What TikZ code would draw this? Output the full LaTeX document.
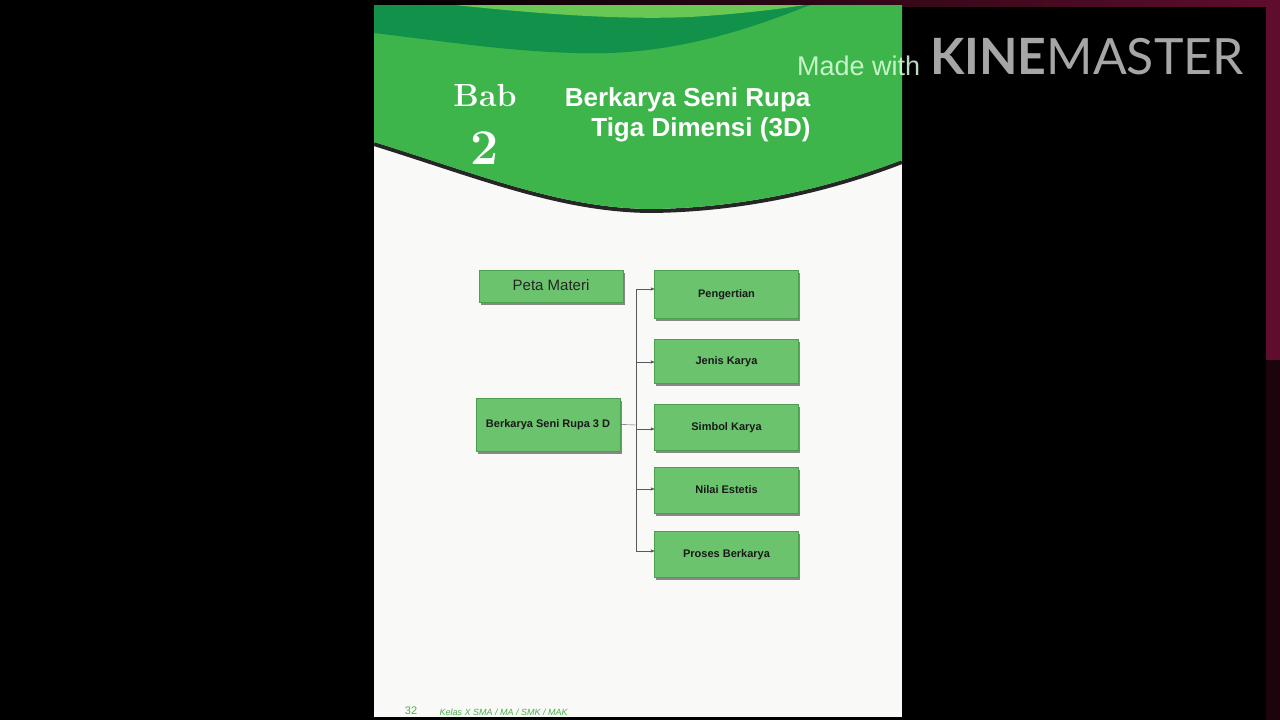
\documentclass[tikz,border=0pt]{standalone}
\usepackage{fontspec}
\newfontfamily\arial{Liberation Sans}
\newfontfamily\lato{Lato}
\usepackage{xcolor}
\usepackage{tikz}
\usetikzlibrary{arrows,shadows}
\definecolor{hdrgreen}{HTML}{3DB54A}
\definecolor{hdrdark}{HTML}{11914A}
\definecolor{hdrlight}{HTML}{68C853}
\definecolor{boxgreen}{HTML}{6CC36E}
\definecolor{boxedge}{HTML}{4E9E52}
\definecolor{pagewhite}{HTML}{F9F9F7}
\definecolor{kmred}{HTML}{5E0D2C}
\definecolor{kmgrey}{HTML}{A6A6A6}
\definecolor{footgreen}{HTML}{4CAF50}
\tikzstyle{mapbox}=[rectangle, draw=boxedge, fill=boxgreen, minimum width=144pt, text depth=1pt, drop shadow={shadow xshift=1.5pt, shadow yshift=-2.5pt, fill=black, opacity=.45}, font=\arial\fontsize{11}{13}\selectfont\bfseries, text=black!90]
\tikzstyle{titlebox}=[mapbox, font=\arial\fontsize{15}{17}\selectfont, text=black!85]
\tikzstyle{linkedge}=[->, >=stealth', thin, draw=black!65]

\begin{document}
\begin{tikzpicture}[x=1pt,y=-1pt]
        \useasboundingbox (0,0) rectangle (1280,720);
        % backdrop and page
        \fill[black] (0,0) rectangle (1280,720);
        \shade[left color=black, right color=kmred] (374,0) rectangle (1280,6);
        \fill[kmred] (1266,0) rectangle (1280,360);
        \fill[kmred!30!black] (1266,360) rectangle (1280,720);
        \fill[pagewhite] (374,5) rectangle (902,717);
        % header waves
        \draw[black!85, line width=4pt] (374,144) .. controls (480,177) and (560,210) .. (650,211) .. controls (760,210) and (850,182) .. (902,162);
        \fill[hdrgreen] (374,5) -- (902,5) -- (902,160) .. controls (850,180) and (760,208) .. (650,209) .. controls (560,208) and (480,175) .. (374,142) -- cycle;
        \fill[hdrdark] (374,5) -- (374,33) .. controls (450,42) and (530,55) .. (610,53) .. controls (690,50) and (760,25) .. (810,5) -- cycle;
        \fill[hdrlight] (455,5) .. controls (540,14) and (620,20) .. (690,17) .. controls (740,14) and (780,9) .. (805,5) -- cycle;
        \node[text=white, font=\fontsize{32}{32}\selectfont\bfseries] (bab) at (485,95) {Bab};
        \node[text=white, font=\fontsize{50}{50}\selectfont\bfseries] (num) at (485,148) {2};
        \node[text=white, font=\arial\bfseries\fontsize{26}{30}\selectfont, align=right, anchor=east] (title) at (814,115) {Berkarya Seni Rupa\\Tiga Dimensi (3D)};
        % map
        \node[titlebox, minimum height=32pt] (peta) at (551,286) {Peta Materi};
        \node[mapbox, minimum height=53pt] (berk) at (548,424.5) {Berkarya Seni Rupa 3 D};
        \node[mapbox, minimum height=48pt] (peng) at (726.5,294) {Pengertian};
        \node[mapbox, minimum height=44pt] (jenis) at (726.5,361) {Jenis Karya};
        \node[mapbox, minimum height=46pt] (simbol) at (726.5,427) {Simbol Karya};
        \node[mapbox, minimum height=46pt] (nilai) at (726.5,490) {Nilai Estetis};
        \node[mapbox, minimum height=46pt] (proses) at (726.5,554) {Proses Berkarya};
        \coordinate (jn) at (636,425);
        \draw[linkedge, -] (berk.east) -- (jn);
        \foreach \b/\s in {peng/5pt, jenis/-1pt, simbol/-2pt, nilai/1pt, proses/3pt}
          \draw[linkedge] (jn) |- ([yshift=\s]\b.west);
        % footer
        \node[text=footgreen, font=\arial\fontsize{11}{11}\selectfont] (pg) at (411,711) {32};
        \node[text=footgreen, font=\arial\itshape\fontsize{9}{9}\selectfont, anchor=west] (kelas) at (436,712) {Kelas X SMA / MA / SMK / MAK};
        % watermark
        \node[text=white!88!green, opacity=.85, font=\arial\fontsize{27}{27}\selectfont, anchor=west, inner sep=0pt] (made) at (797,66) {Made with};
        \node[text=kmgrey, font=\lato\fontsize{50}{50}\selectfont, anchor=west, inner sep=0pt] (km) at (930,57) {{\bfseries KINE}MASTER};
      \end{tikzpicture}
\end{document}
